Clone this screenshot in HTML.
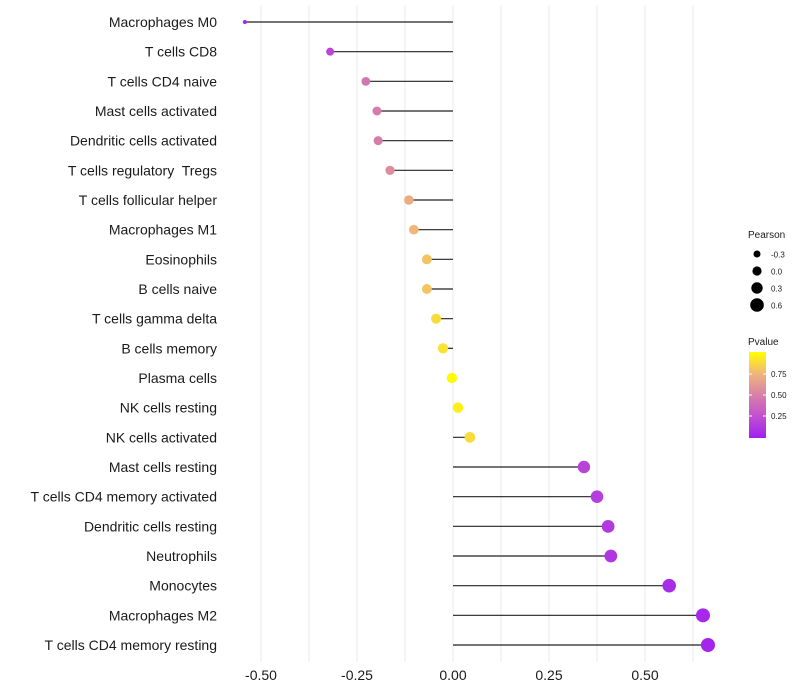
<!DOCTYPE html>
<html><head><meta charset="utf-8"><style>
body{margin:0;background:#fff;}
svg{display:block;font-family:"Liberation Sans",sans-serif;}
</style></head><body>
<svg id="chart" width="800" height="700"></svg>
<script>
const categories=["Macrophages M0","T cells CD8","T cells CD4 naive","Mast cells activated","Dendritic cells activated","T cells regulatory  Tregs","T cells follicular helper","Macrophages M1","Eosinophils","B cells naive","T cells gamma delta","B cells memory","Plasma cells","NK cells resting","NK cells activated","Mast cells resting","T cells CD4 memory activated","Dendritic cells resting","Neutrophils","Monocytes","Macrophages M2","T cells CD4 memory resting"];
const pearson=[-0.542,-0.32,-0.227,-0.198,-0.195,-0.164,-0.115,-0.102,-0.068,-0.068,-0.044,-0.026,-0.003,0.013,0.044,0.341,0.375,0.404,0.411,0.563,0.651,0.664];
const pvalues=[0.03,0.2,0.45,0.48,0.48,0.55,0.7,0.75,0.8,0.8,0.88,0.9,0.99,0.95,0.88,0.18,0.16,0.13,0.12,0.06,0.04,0.03];
const xTicks=[-0.5,-0.25,0,0.25,0.5];
const xTickLabels=["-0.50","-0.25","0.00","0.25","0.50"];
const sizeLegend=[-0.3,0.0,0.3,0.6];
const colorTicks=[0.25,0.5,0.75];

const NS="http://www.w3.org/2000/svg";
const svg=document.getElementById('chart');
function mk(t,a,p){const e=document.createElementNS(NS,t);for(const k in a)e.setAttribute(k,a[k]);(p||svg).appendChild(e);return e;}
const x=v=>453+v*384;
const y=i=>22+i*(623/21);
const r=v=>v<-0.45?2:Math.sqrt(Math.max(2,27+34*v));
const stops=[[0,[160,32,240]],[0.25,[192,80,208]],[0.5,[216,128,168]],[0.75,[240,182,122]],[1,[255,255,0]]];
function col(p){for(let i=1;i<stops.length;i++){if(p<=stops[i][0]){const a=stops[i-1],b=stops[i];const t=(p-a[0])/(b[0]-a[0]);const c=a[1].map((v,k)=>Math.round(v+(b[1][k]-v)*t));return `rgb(${c})`;}}return 'rgb(255,255,0)';}

const grid=mk('g',{});


for(let v=-0.5;v<=0.626;v+=0.125){mk('line',{x1:x(v),x2:x(v),y1:5,y2:662,stroke:'#ebebeb','stroke-width':1},grid);}
categories.forEach((c,i)=>{
  const t=mk('text',{x:217,y:y(i)+5,'text-anchor':'end','font-size':14,fill:'#1a1a1a','xml:space':'preserve'});
  t.style.whiteSpace='pre';
  t.textContent=c;
  
  
  const l=mk('line',{x1:x(0),x2:x(pearson[i]),y1:y(i),y2:y(i),stroke:'#222','stroke-width':1.2});
  
  
  const d=mk('circle',{cx:x(pearson[i]),cy:y(i),r:r(pearson[i]),fill:col(pvalues[i])});
  
  
});
xTicks.forEach((v,i)=>{const t=mk('text',{x:x(v),y:680,'text-anchor':'middle','font-size':14,fill:'#1a1a1a'});t.textContent=xTickLabels[i];

});
const lg=mk('g',{});


const lt=mk('text',{x:748,y:238,'font-size':10,fill:'#1a1a1a'},lg);lt.textContent='Pearson';
sizeLegend.forEach((v,i)=>{const cy=254+i*17;mk('circle',{cx:757,cy:cy,r:3.5+i*1.1,fill:'#000'},lg);const t=mk('text',{x:771,y:cy+3.5,'font-size':8,fill:'#1a1a1a'},lg);t.textContent=v.toFixed(1);});
const cg=mk('g',{});


const ct=mk('text',{x:748,y:345,'font-size':10,fill:'#1a1a1a'},cg);ct.textContent='Pvalue';
const defs=mk('defs',{});const gr=mk('linearGradient',{id:'pg',x1:0,y1:1,x2:0,y2:0},defs);
stops.forEach(s=>mk('stop',{offset:s[0],'stop-color':`rgb(${s[1]})`},gr));
mk('rect',{x:749,y:352,width:17,height:86,fill:'url(#pg)'},cg);
colorTicks.forEach(p=>{const yy=437-p*84;mk('line',{x1:749,x2:752,y1:yy,y2:yy,stroke:'#fff'},cg);mk('line',{x1:763,x2:766,y1:yy,y2:yy,stroke:'#fff'},cg);const t=mk('text',{x:771,y:yy+3,'font-size':8,fill:'#1a1a1a'},cg);t.textContent=p.toFixed(2);});
</script>
</body></html>
